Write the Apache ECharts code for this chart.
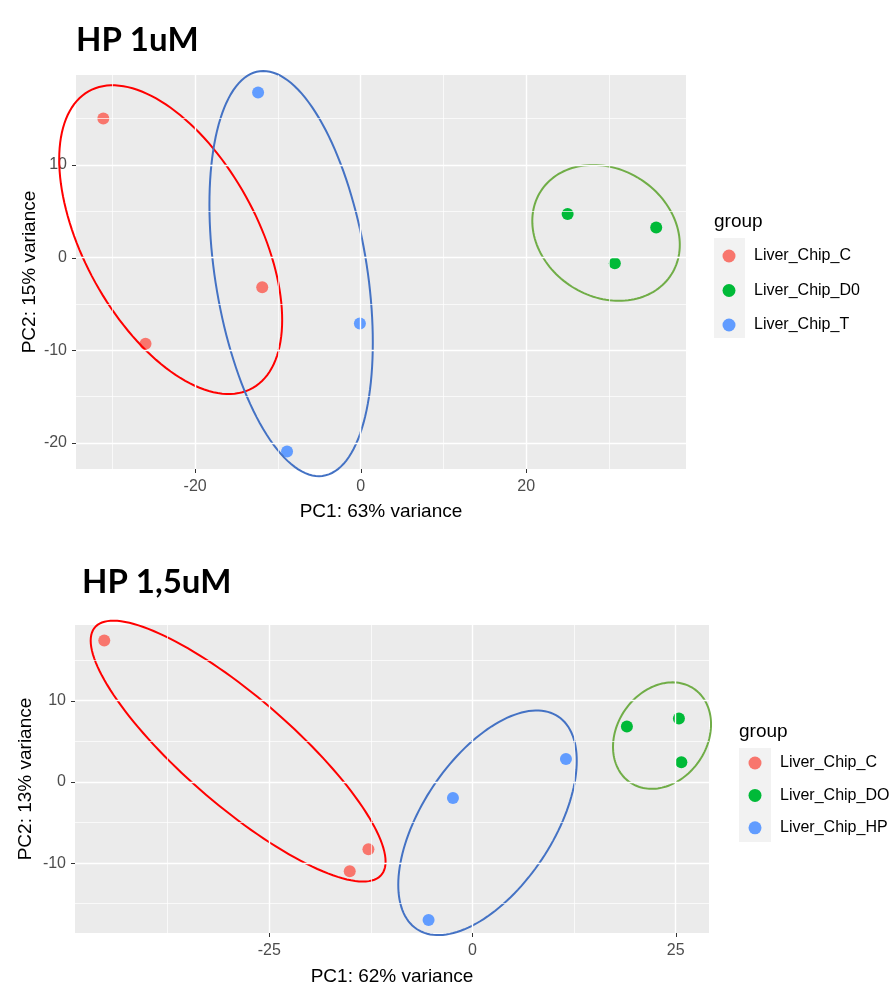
<!DOCTYPE html>
<html>
<head>
<meta charset="utf-8">
<script src="https://cdn.jsdelivr.net/npm/echarts@6/dist/echarts.min.js"></script>
<style>
  html, body { margin: 0; padding: 0; background: #fff; }
  #chart { width: 893px; height: 989px; }
</style>
</head>
<body>
<div id="chart"></div>
<script>
// ---- HP 1uM ----
const groups1 = ['Liver_Chip_C', 'Liver_Chip_D0', 'Liver_Chip_T']
const hp1_C = [[-31.1, 15.0], [-26.0, -9.3], [-11.9, -3.2]]
const hp1_D0 = [[25.0, 4.7], [30.7, -0.6], [35.7, 3.25]]
const hp1_T = [[-12.4, 17.8], [-0.1, -7.1], [-8.9, -20.9]]
// ellipse: [centre x, centre y, half width, half height, correlation]
const hp1_ellipses = [
  [-22.96, 1.94, 13.47, 16.65, -0.52],
  [29.64, 2.67, 8.91, 7.33, -0.175],
  [-8.41, -1.72, 9.87, 21.85, -0.34]
]
const hp1_xRange = [-34.4, 39.3]
const hp1_yRange = [-22.8, 19.7]
const hp1_xTicks = [-20, 0, 20]
const hp1_xMinor = [-30, -10, 10, 30]
const hp1_yTicks = [-20, -10, 0, 10]
const hp1_yMinor = [-15, -5, 5, 15]

// ---- HP 1,5uM ----
const groups2 = ['Liver_Chip_C', 'Liver_Chip_DO', 'Liver_Chip_HP']
const hp15_C = [[-45.3, 17.4], [-12.8, -8.3], [-15.1, -11.0]]
const hp15_DO = [[19.0, 6.8], [25.4, 7.8], [25.7, 2.4]]
const hp15_HP = [[-5.4, -17.0], [-2.4, -2.0], [11.5, 2.8]]
const hp15_ellipses = [
  [-28.83, 3.78, 18.14, 16.05, -0.847],
  [23.32, 5.69, 6.03, 6.55, 0.212],
  [1.85, -5.04, 10.98, 13.82, 0.552]
]
const hp15_xRange = [-48.9, 29.1]
const hp15_yRange = [-18.6, 19.3]
const hp15_xTicks = [-25, 0, 25]
const hp15_xMinor = [-37.5, -12.5, 12.5]
const hp15_yTicks = [-10, 0, 10]
const hp15_yMinor = [-15, -5, 5, 15]

const pointColors = ['#F8766D', '#00BA38', '#619CFF']
const ringColors = ['#FF0000', '#70AD47', '#4472C4']
const SANS = '"Liberation Sans", Arial, sans-serif'

const myChart = echarts.init(document.getElementById('chart'))

function xAxis(gi, range, ticks, name, gap) {
  return {
    type: 'value', gridIndex: gi, min: range[0], max: range[1],
    name: name, nameLocation: 'middle', nameGap: gap, nameMoveOverlap: false,
    nameTextStyle: { color: '#000', fontSize: 19, fontFamily: SANS },
    axisLine: { show: false },
    axisTick: { show: false },
    axisLabel: { customValues: ticks, margin: 10, color: '#4D4D4D', fontSize: 16, fontFamily: SANS },
    splitLine: { show: false }
  }
}

function yAxis(gi, range, ticks, name, gap) {
  return {
    type: 'value', gridIndex: gi, min: range[0], max: range[1],
    name: name, nameLocation: 'middle', nameGap: gap, nameMoveOverlap: false,
    nameTextStyle: { color: '#000', fontSize: 19, fontFamily: SANS },
    axisLine: { show: false },
    axisTick: { show: false },
    axisLabel: { customValues: ticks, margin: 9, color: '#4D4D4D', fontSize: 16, fontFamily: SANS },
    splitLine: { show: false }
  }
}

// white panel grid lines, through the axis scales
function gridLines(gi, xMajor, xMinor, yMajor, yMinor) {
  const data = []
  xMinor.forEach(v => data.push({ xAxis: v, lineStyle: { width: 0.7 } }))
  yMinor.forEach(v => data.push({ yAxis: v, lineStyle: { width: 0.7 } }))
  xMajor.forEach(v => data.push({ xAxis: v, lineStyle: { width: 1.4 } }))
  yMajor.forEach(v => data.push({ yAxis: v, lineStyle: { width: 1.4 } }))
  return {
    type: 'scatter', xAxisIndex: gi, yAxisIndex: gi, data: [], silent: true, z: 1,
    markLine: {
      silent: true, symbol: 'none', label: { show: false },
      lineStyle: { color: '#FFFFFF', type: 'solid' },
      animation: false,
      data: data
    }
  }
}

// small outward tick marks (ggplot style), placed with api.coord
function tickMarks(gi, xRange, yRange, xTicks, yTicks) {
  const data = xTicks.map(v => [v, yRange[0], 0]).concat(yTicks.map(v => [xRange[0], v, 1]))
  return {
    type: 'custom', xAxisIndex: gi, yAxisIndex: gi, silent: true, clip: false, z: 2,
    data: data,
    renderItem: function (params, api) {
      const p = api.coord([api.value(0), api.value(1)])
      const isY = api.value(2) === 1
      const shape = isY
        ? { x1: p[0] - 4, y1: Math.round(p[1]) + 0.5, x2: p[0], y2: Math.round(p[1]) + 0.5 }
        : { x1: Math.round(p[0]) + 0.5, y1: p[1], x2: Math.round(p[0]) + 0.5, y2: p[1] + 4 }
      return { type: 'line', shape: shape, style: { stroke: '#333333', lineWidth: 1 } }
    }
  }
}

function points(gi, name, data, color) {
  return {
    name: name, type: 'scatter', xAxisIndex: gi, yAxisIndex: gi,
    symbol: 'circle', symbolSize: 12, z: 3,
    itemStyle: { color: color, opacity: 1 },
    data: data
  }
}

function ellipses(gi, data) {
  return {
    type: 'custom', xAxisIndex: gi, yAxisIndex: gi, silent: true, clip: false, z: 4,
    data: data,
    renderItem: function (params, api) {
      const cx = api.value(0), cy = api.value(1), rx = api.value(2), ry = api.value(3), rho = api.value(4)
      const k = Math.sqrt(1 - rho * rho)
      const pts = []
      for (let i = 0; i < 144; i++) {
        const t = i / 144 * Math.PI * 2
        pts.push(api.coord([cx + rx * Math.cos(t), cy + ry * (rho * Math.cos(t) + k * Math.sin(t))]))
      }
      return {
        type: 'polygon',
        shape: { points: pts },
        style: { fill: 'none', stroke: ringColors[params.dataIndex], lineWidth: 2 }
      }
    }
  }
}

function legend(names, left, top, gap) {
  return {
    data: names, orient: 'vertical', left: left, top: top, padding: 0,
    icon: 'circle', itemWidth: 40, itemHeight: 13, itemGap: gap,
    selectedMode: false,
    textStyle: { color: '#000', fontSize: 16, lineHeight: 16, fontFamily: SANS }
  }
}

const option = {
  animation: false,
  backgroundColor: '#fff',
  title: [
    { text: 'HP 1uM', left: 76, top: 24, padding: 0,
      textStyle: { fontFamily: 'Lato', fontWeight: 'bold', fontSize: 33, color: '#000' } },
    { text: 'HP 1,5uM', left: 82, top: 566, padding: 0,
      textStyle: { fontFamily: 'Lato', fontWeight: 'bold', fontSize: 33, color: '#000' } },
    { text: 'group', left: 714, top: 212, padding: 0,
      textStyle: { fontFamily: SANS, fontWeight: 'normal', fontSize: 19, color: '#000' } },
    { text: 'group', left: 739, top: 722, padding: 0,
      textStyle: { fontFamily: SANS, fontWeight: 'normal', fontSize: 19, color: '#000' } }
  ],
  graphic: [
    { type: 'rect', left: 714, top: 238, shape: { width: 31, height: 100 }, style: { fill: '#F2F2F2' }, z: -1 },
    { type: 'rect', left: 739, top: 748, shape: { width: 32, height: 94 }, style: { fill: '#F2F2F2' }, z: -1 }
  ],
  legend: [
    legend(groups1, 722.5, 248, 18.5),
    legend(groups2, 748.5, 755, 16.4)
  ],
  grid: [
    { left: 76, top: 75, width: 610, height: 394, show: true, backgroundColor: '#EBEBEB', borderWidth: 0, containLabel: false, outerBoundsMode: 'none' },
    { left: 75, top: 625, width: 634, height: 308, show: true, backgroundColor: '#EBEBEB', borderWidth: 0, containLabel: false, outerBoundsMode: 'none' }
  ],
  xAxis: [
    xAxis(0, hp1_xRange, hp1_xTicks, 'PC1: 63% variance', 33),
    xAxis(1, hp15_xRange, hp15_xTicks, 'PC1: 62% variance', 34.5)
  ],
  yAxis: [
    yAxis(0, hp1_yRange, hp1_yTicks, 'PC2: 15% variance', 37),
    yAxis(1, hp15_yRange, hp15_yTicks, 'PC2: 13% variance', 39.5)
  ],
  series: [
    gridLines(0, hp1_xTicks, hp1_xMinor, hp1_yTicks, hp1_yMinor),
    gridLines(1, hp15_xTicks, hp15_xMinor, hp15_yTicks, hp15_yMinor),
    tickMarks(0, hp1_xRange, hp1_yRange, hp1_xTicks, hp1_yTicks),
    tickMarks(1, hp15_xRange, hp15_yRange, hp15_xTicks, hp15_yTicks),
    points(0, groups1[0], hp1_C, pointColors[0]),
    points(0, groups1[1], hp1_D0, pointColors[1]),
    points(0, groups1[2], hp1_T, pointColors[2]),
    points(1, groups2[0], hp15_C, pointColors[0]),
    points(1, groups2[1], hp15_DO, pointColors[1]),
    points(1, groups2[2], hp15_HP, pointColors[2]),
    ellipses(0, hp1_ellipses),
    ellipses(1, hp15_ellipses)
  ]
}

myChart.setOption(option)
</script>
</body>
</html>
